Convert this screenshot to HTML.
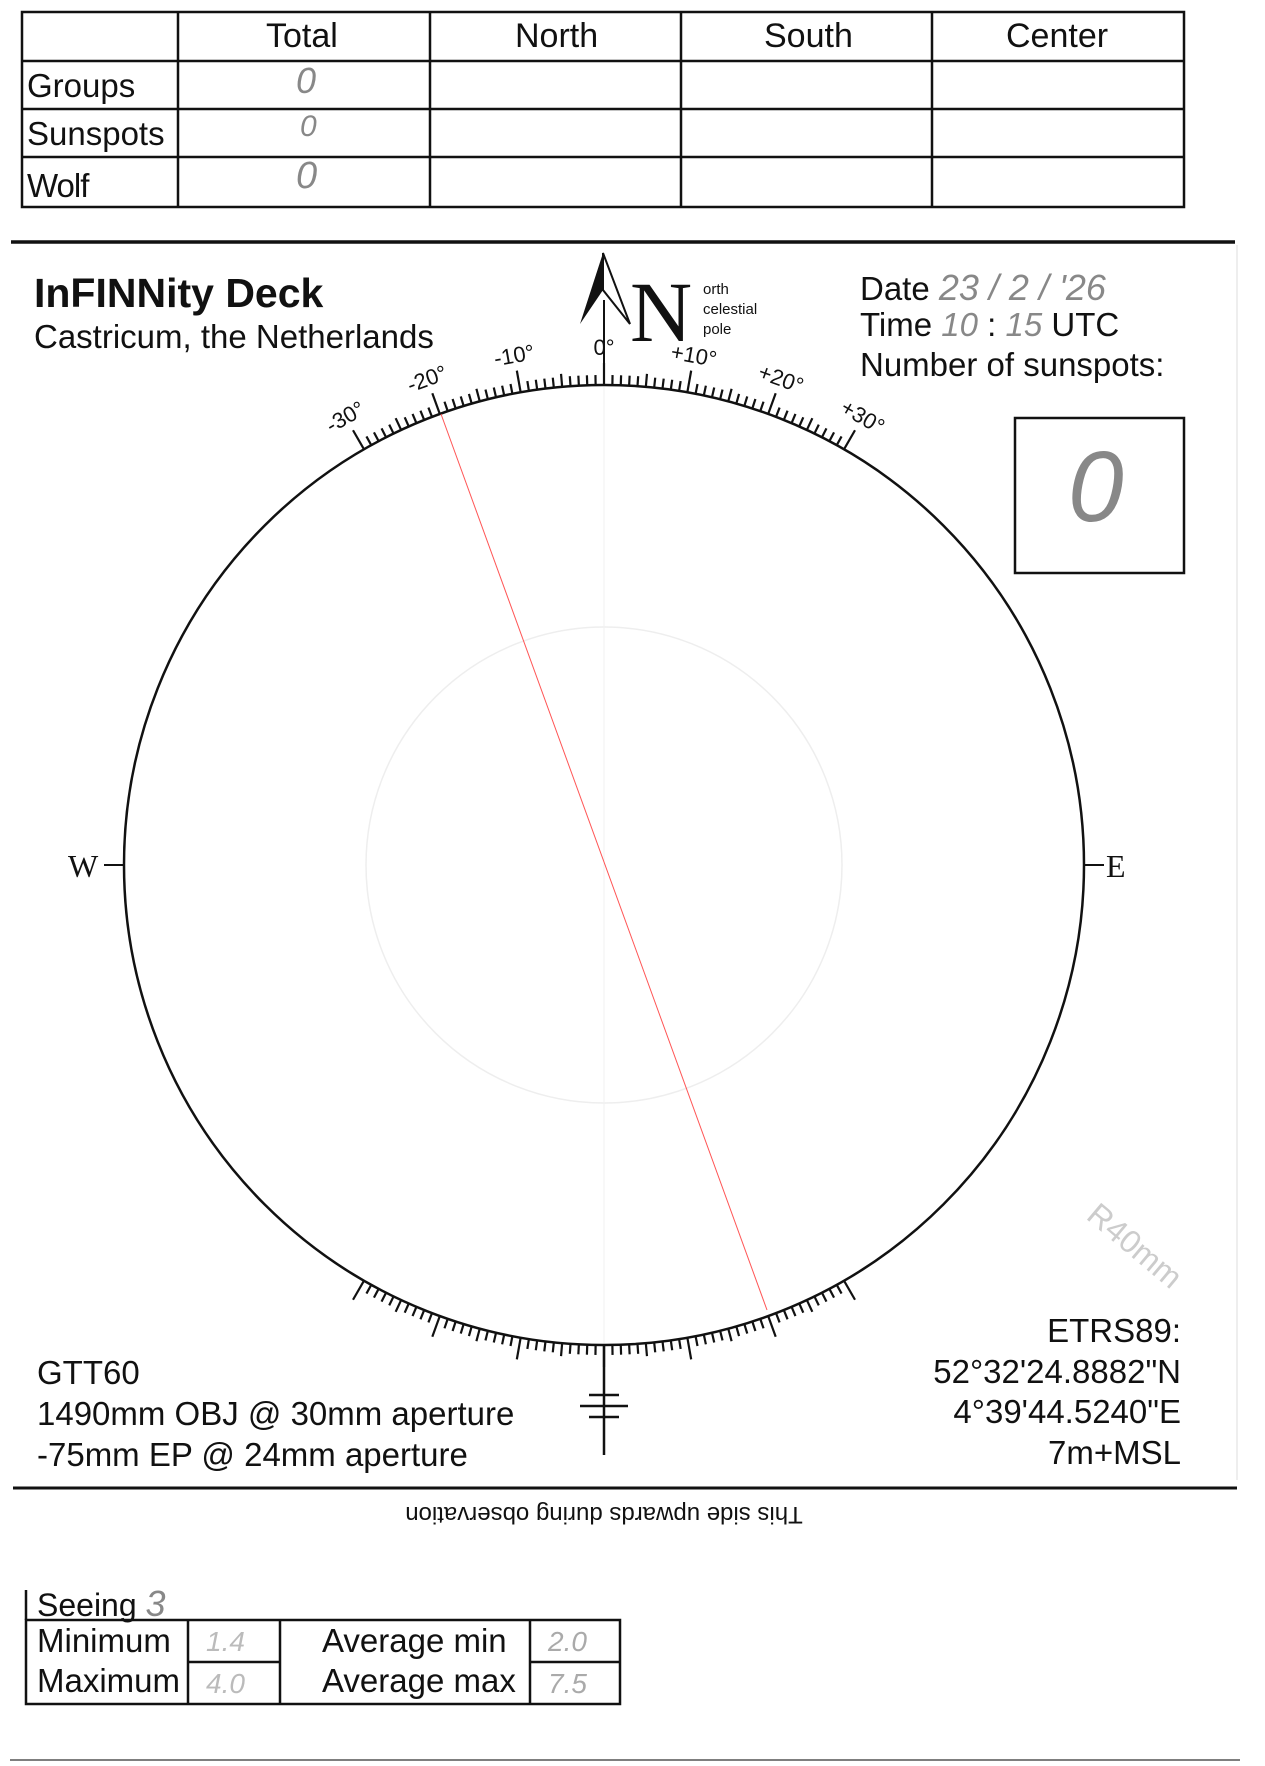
<!DOCTYPE html>
<html><head><meta charset="utf-8"><style>
html,body{margin:0;padding:0;background:#fff}
body{width:1265px;height:1766px;position:relative;overflow:hidden;font-family:"Liberation Sans",sans-serif;color:#111}
.a{position:absolute;white-space:nowrap}
.hw{color:#888;font-family:"Liberation Sans",sans-serif;font-style:italic;font-weight:300}
</style></head><body>
<svg width="1265" height="1766" style="position:absolute;left:0;top:0" id="s">
<g stroke="#111" stroke-width="2.5" fill="none">
<rect x="22" y="12" width="1162" height="195"/>
<line x1="22" y1="61" x2="1184" y2="61"/><line x1="22" y1="109" x2="1184" y2="109"/><line x1="22" y1="157" x2="1184" y2="157"/>
<line x1="178" y1="12" x2="178" y2="207"/><line x1="430" y1="12" x2="430" y2="207"/><line x1="681" y1="12" x2="681" y2="207"/><line x1="932" y1="12" x2="932" y2="207"/>
</g>
<line x1="11" y1="242" x2="1235" y2="242" stroke="#111" stroke-width="3.5"/>
<line x1="13" y1="1488" x2="1237" y2="1488" stroke="#111" stroke-width="3"/>
<line x1="10" y1="1760" x2="1240" y2="1760" stroke="#555" stroke-width="1.5"/>
<line x1="1237" y1="245" x2="1237" y2="1480" stroke="#ddd" stroke-width="1"/>
<rect x="1015" y="418" width="169" height="155" fill="none" stroke="#111" stroke-width="2.5"/>
<circle cx="604" cy="865" r="238" fill="none" stroke="#eee" stroke-width="1.5"/>
<line x1="604" y1="385" x2="604" y2="1345" stroke="#f2f2f2" stroke-width="1"/>
<circle cx="604" cy="865" r="480" fill="none" stroke="#111" stroke-width="2.5"/>
<line x1="441" y1="414" x2="767" y2="1310" stroke="#f55" stroke-width="1"/>
<line x1="104" y1="865" x2="124" y2="865" stroke="#111" stroke-width="2"/>
<line x1="1084" y1="865" x2="1104" y2="865" stroke="#111" stroke-width="2"/>
<g stroke="#111" stroke-width="2.5">
<line x1="604" y1="1345" x2="604" y2="1455"/>
<line x1="589" y1="1395" x2="619" y2="1395"/>
<line x1="580" y1="1406" x2="628" y2="1406"/>
<line x1="589" y1="1417" x2="619" y2="1417"/>
</g>
<line x1="604" y1="300" x2="604" y2="385" stroke="#111" stroke-width="2"/>
<polygon points="603,253 580,324 603,290" fill="#111"/>
<polygon points="603,253 630,324 603,290" fill="#fff" stroke="#111" stroke-width="2"/>
<text x="630" y="341" font-family="Liberation Serif,serif" font-size="86" fill="#111">N</text>
<g font-family="Liberation Sans,sans-serif" font-size="15" fill="#111">
<text x="703" y="294">orth</text><text x="703" y="314">celestial</text><text x="703" y="334">pole</text></g>
<text x="1085" y="1218" transform="rotate(40 1085 1218)" font-size="32" fill="#ccc" font-family="Liberation Sans,sans-serif">R40mm</text>
<g id="ticks" stroke="#111" stroke-width="2.2"></g>
<g id="lbl" font-family="Liberation Sans,sans-serif" font-size="22" fill="#111" text-anchor="middle"></g>
</svg>
<script>
(function(){var cx=604,cy=865,r=480,g=document.getElementById('ticks'),L=document.getElementById('lbl'),ns='http://www.w3.org/2000/svg';
function ln(a,l,top){var t=a*Math.PI/180,s=Math.sin(t),c=Math.cos(t),d=top?-1:1;
var x1=cx+s*r,y1=cy+d*c*r,x2=cx+s*(r+l),y2=cy+d*c*(r+l);var e=document.createElementNS(ns,'line');
e.setAttribute('x1',x1);e.setAttribute('y1',y1);e.setAttribute('x2',x2);e.setAttribute('y2',y2);g.appendChild(e);}
for(var a=-30;a<=30;a++){var l=a%10==0?22:(a%5==0?13:10);ln(a,l,1);ln(a,l,0);}
[-30,-20,-10,0,10,20,30].forEach(function(a){var t=a*Math.PI/180,R=r+30;var x=cx+Math.sin(t)*R,y=cy-Math.cos(t)*R;
var e=document.createElementNS(ns,'text');e.setAttribute('x',x);e.setAttribute('y',y);e.setAttribute('transform','rotate('+a+' '+x+' '+y+')');
e.textContent=(a>0?'+':'')+a+'°';L.appendChild(e);});})();
</script>
<div class="a" style="left:266px;top:17px;font-size:34px">Total</div>
<div class="a" style="left:515px;top:17px;font-size:34px">North</div>
<div class="a" style="left:764px;top:17px;font-size:34px">South</div>
<div class="a" style="left:1006px;top:17px;font-size:34px">Center</div>
<div class="a" style="left:27px;top:67px;font-size:33px">Groups</div>
<div class="a" style="left:27px;top:115px;font-size:33px">Sunspots</div>
<div class="a" style="left:27px;top:167px;font-size:33px;letter-spacing:-1px">Wolf</div>
<div class="a hw" style="left:296px;top:60px;font-size:36px">0</div>
<div class="a hw" style="left:300px;top:110px;font-size:30px">0</div>
<div class="a hw" style="left:296px;top:155px;font-size:38px">0</div>
<div class="a" style="left:34px;top:270px;font-size:41px;font-weight:bold">InFINNity Deck</div>
<div class="a" style="left:34px;top:318px;font-size:33px">Castricum, the Netherlands</div>
<div class="a" style="left:860px;top:267px;font-size:33px">Date <span class="hw" style="font-size:36px">23 / 2 / '26</span></div>
<div class="a" style="left:860px;top:306px;font-size:33px">Time <span class="hw">10</span> : <span class="hw">15</span> UTC</div>
<div class="a" style="left:860px;top:346px;font-size:33px">Number of sunspots:</div>
<div class="a hw" style="left:1068px;top:430px;font-size:100px">0</div>
<div class="a" style="left:68px;top:848px;font-family:'Liberation Serif',serif;font-size:32px">W</div>
<div class="a" style="left:1106px;top:848px;font-family:'Liberation Serif',serif;font-size:32px">E</div>
<div class="a" style="left:37px;top:1354px;font-size:33px">GTT60</div>
<div class="a" style="left:37px;top:1395px;font-size:33px">1490mm OBJ @ 30mm aperture</div>
<div class="a" style="left:37px;top:1436px;font-size:33px">-75mm EP @ 24mm aperture</div>
<div class="a" style="right:84px;top:1312px;font-size:33px">ETRS89:</div>
<div class="a" style="right:84px;top:1353px;font-size:33px">52°32'24.8882"N</div>
<div class="a" style="right:84px;top:1393px;font-size:33px">4°39'44.5240"E</div>
<div class="a" style="right:84px;top:1434px;font-size:33px">7m+MSL</div>
<div class="a" style="left:604px;top:1500px;font-size:24px;transform:translateX(-50%) rotate(180deg)">This side upwards during observation</div>
<svg width="1265" height="1766" style="position:absolute;left:0;top:0">
<g stroke="#111" stroke-width="2.5" fill="none">
<line x1="26" y1="1590" x2="26" y2="1620"/>
<rect x="26" y="1620" width="594" height="84"/>
<line x1="188" y1="1620" x2="188" y2="1704"/><line x1="280" y1="1620" x2="280" y2="1704"/><line x1="530" y1="1620" x2="530" y2="1704"/>
<line x1="188" y1="1662" x2="280" y2="1662"/><line x1="530" y1="1662" x2="620" y2="1662"/>
</g></svg>
<div class="a" style="left:37px;top:1583px;font-size:32px">Seeing <span class="hw" style="font-size:36px">3</span></div>
<div class="a" style="left:37px;top:1622px;font-size:33px">Minimum</div>
<div class="a" style="left:37px;top:1662px;font-size:33px">Maximum</div>
<div class="a" style="left:322px;top:1622px;font-size:33px">Average min</div>
<div class="a" style="left:322px;top:1662px;font-size:33px">Average max</div>
<div class="a hw" style="left:206px;top:1626px;font-size:28px;color:#bbb">1.4</div>
<div class="a hw" style="left:206px;top:1668px;font-size:28px;color:#bbb">4.0</div>
<div class="a hw" style="left:548px;top:1626px;font-size:28px;color:#aaa">2.0</div>
<div class="a hw" style="left:548px;top:1668px;font-size:28px;color:#aaa">7.5</div>
</body></html>
